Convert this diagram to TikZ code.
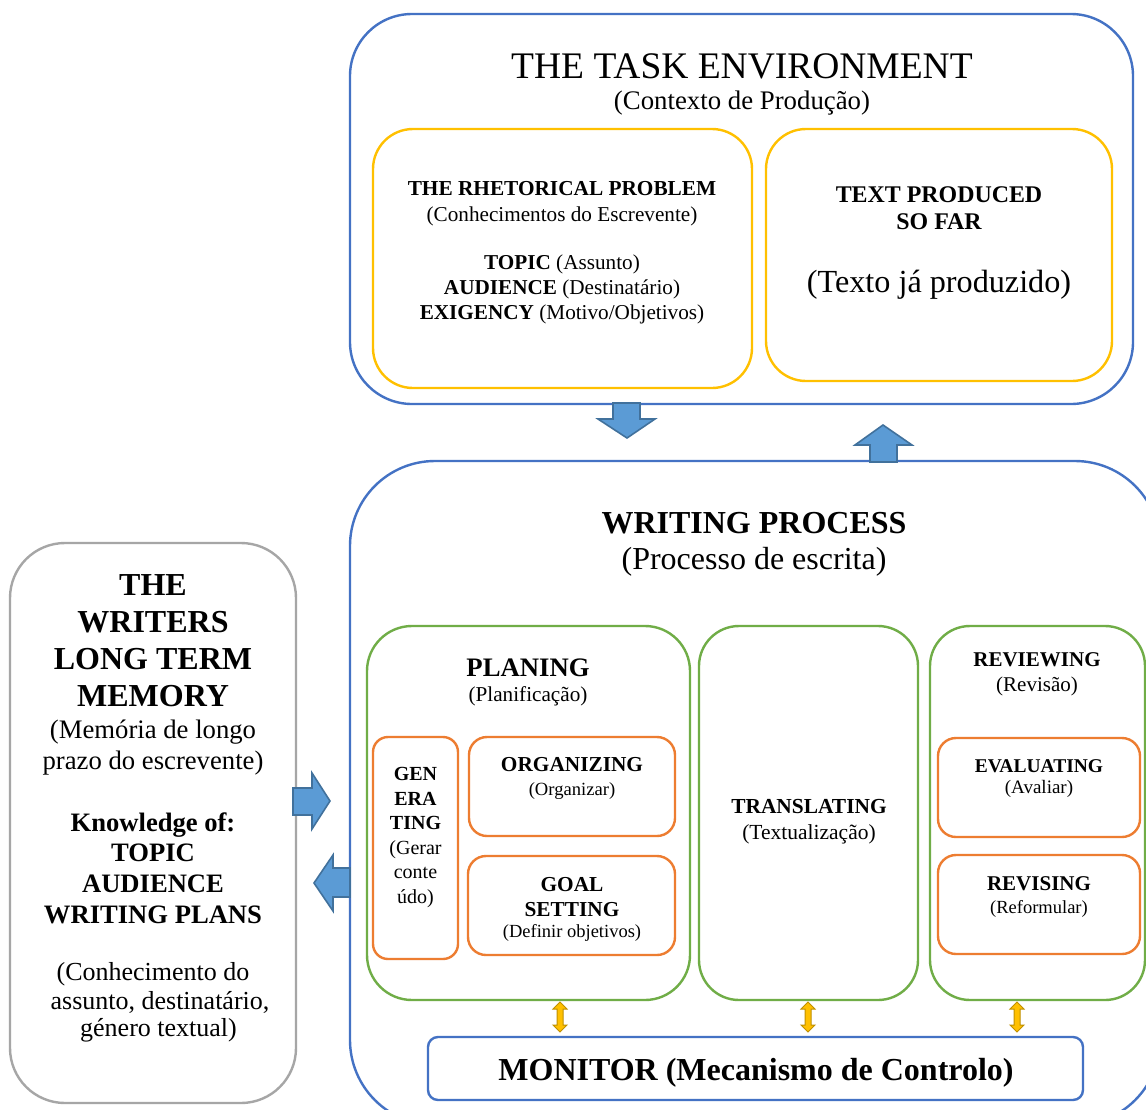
\documentclass[tikz,border=0pt]{standalone}
\usepackage{fontspec}
\setmainfont{Liberation Serif}
\usetikzlibrary{calc}
\definecolor{cblue}{HTML}{4472C4}
\definecolor{cyell}{HTML}{FFC000}
\definecolor{cgreen}{HTML}{70AD47}
\definecolor{corange}{HTML}{ED7D31}
\definecolor{cgray}{HTML}{A6A6A6}
\definecolor{afill}{HTML}{5B9BD5}
\definecolor{aline}{HTML}{41719C}
\definecolor{gfill}{HTML}{FFC000}
\definecolor{gline}{HTML}{BF9000}
\newcommand\fsz[2]{\fontsize{#1}{#2}\selectfont}
\tikzset{
  box/.style={draw=#1, line width=2.4pt, inner sep=0pt, outer sep=0pt, fill=white},
  txt/.style={align=center, inner sep=0pt},
  blockarrow/.style={fill=afill, draw=aline, line width=1.6pt, line join=miter},
  pics/updown/.style={code={
    \draw[fill=gfill, draw=gline, line width=1pt, line join=miter]
      (0,-15) -- (7,-8) -- (3,-8) -- (3,8) -- (7,8) -- (0,15) -- (-7,8) -- (-3,8) -- (-3,-8) -- (-7,-8) -- cycle;}}
}
\begin{document}
\begin{tikzpicture}[x=1pt,y=-1pt]
\useasboundingbox (0,0) rectangle (1146,1109);
\clip (0,0) rectangle (1146,1109);
\fill[white] (0,0) rectangle (1146,1109);

% ---- task environment
\node[box=cblue, rounded corners=62pt, minimum width=783pt, minimum height=390pt] (task) at (741.5,209) {};
\node[txt, font=\fsz{37.5}{42}] (taskt) at (742,66) {THE TASK ENVIRONMENT};
\node[txt, font=\fsz{26.8}{30}] (tasks) at (742,103.5) {(Contexto de Produção)};

\node[box=cyell, rounded corners=40pt, minimum width=379pt, minimum height=259pt] (rhet) at (562.5,258.5) {};
\node[txt, font=\fsz{21.3}{25}\bfseries] (rheta) at (562,189) {THE RHETORICAL PROBLEM};
\node[txt, font=\fsz{21.2}{24}] (rhetb) at (562,216) {(Conhecimentos do Escrevente)};
\node[txt, font=\fsz{21.2}{25}] (rhetc) at (562,289) {\textbf{TOPIC} (Assunto)\\\textbf{AUDIENCE} (Destinatário)\\\textbf{EXIGENCY} (Motivo/Objetivos)};

\node[box=cyell, rounded corners=40pt, minimum width=346pt, minimum height=252pt] (tpsf) at (939,255) {};
\node[txt, font=\fsz{23.9}{27}\bfseries] (tpsfa) at (939,208) {TEXT PRODUCED\\SO FAR};
\node[txt, font=\fsz{32.2}{36}] (tpsfb) at (939,284.5) {(Texto já produzido)};

% ---- writing process
\node[box=cblue, rounded corners=85pt, minimum width=810pt, minimum height=664pt] (wp) at (755,793) {};
\node[txt, font=\fsz{32}{36}\bfseries] (wpa) at (754,523) {WRITING PROCESS};
\node[txt, font=\fsz{32}{36}] (wpb) at (754,562) {(Processo de escrita)};

\node[box=cgreen, rounded corners=45pt, minimum width=323pt, minimum height=374pt] (plan) at (528.5,813) {};
\node[txt, font=\fsz{26.7}{30}\bfseries] (plana) at (528,668) {PLANING};
\node[txt, font=\fsz{21.2}{24}] (planb) at (528,696.5) {(Planificação)};

\node[box=corange, rounded corners=15pt, minimum width=85pt, minimum height=222pt] (gen) at (415.5,848) {};
\node[txt, font=\fsz{20}{24.6}] (gent) at (415.5,837.5) {\textbf{GEN}\\\textbf{ERA}\\\textbf{TING}\\(Gerar\\conte\\údo)};

\node[box=corange, rounded corners=18pt, minimum width=206pt, minimum height=99pt] (org) at (572,786.5) {};
\node[txt, font=\fsz{21.3}{25}\bfseries] (orga) at (572,765) {ORGANIZING};
\node[txt, font=\fsz{18.6}{22}] (orgb) at (572,791) {(Organizar)};

\node[box=corange, rounded corners=18pt, minimum width=207pt, minimum height=99pt] (goal) at (571.5,905.5) {};
\node[txt, font=\fsz{21.3}{24.5}\bfseries] (goala) at (572,897) {GOAL\\SETTING};
\node[txt, font=\fsz{18.5}{22}] (goalb) at (572,933) {(Definir objetivos)};

\node[box=cgreen, rounded corners=40pt, minimum width=219pt, minimum height=374pt] (trans) at (808.5,813) {};
\node[txt, font=\fsz{21.4}{25}\bfseries] (transa) at (809,807) {TRANSLATING};
\node[txt, font=\fsz{21.5}{24}] (transb) at (809,834.5) {(Textualização)};

\node[box=cgreen, rounded corners=40pt, minimum width=215pt, minimum height=374pt] (rev) at (1037.5,813) {};
\node[txt, font=\fsz{21}{25}\bfseries] (reva) at (1037,660) {REVIEWING};
\node[txt, font=\fsz{21}{24}] (revb) at (1037,686.5) {(Revisão)};

\node[box=corange, rounded corners=18pt, minimum width=202pt, minimum height=99pt] (eval) at (1039,787.5) {};
\node[txt, font=\fsz{19.5}{23}\bfseries] (evala) at (1039,766) {EVALUATING};
\node[txt, font=\fsz{19}{22}] (evalb) at (1039,789) {(Avaliar)};

\node[box=corange, rounded corners=18pt, minimum width=202pt, minimum height=99pt] (revis) at (1039,904.5) {};
\node[txt, font=\fsz{21}{25}\bfseries] (revisa) at (1039,884) {REVISING};
\node[txt, font=\fsz{18.5}{22}] (revisb) at (1039,909) {(Reformular)};

\node[box=cblue, rounded corners=10pt, minimum width=655pt, minimum height=63pt] (mon) at (755.5,1068.5) {};
\node[txt, font=\fsz{32}{36}\bfseries] (mont) at (756,1072.5) {MONITOR (Mecanismo de Controlo)};

\pic (ud1) at (560,1017) {updown};
\pic (ud2) at (808,1017) {updown};
\pic (ud3) at (1017,1017) {updown};

% ---- long term memory
\node[box=cgray, rounded corners=55pt, minimum width=286pt, minimum height=560pt] (ltm) at (153,823) {};
\node[txt, font=\fsz{32}{37}\bfseries] (ltma) at (153,641) {THE\\WRITERS\\LONG TERM\\MEMORY};
\node[txt, font=\fsz{26.7}{31}] (ltmb) at (153,747.5) {(Memória de longo\\prazo do escrevente)};
\node[txt, font=\fsz{26.6}{30.7}\bfseries] (ltmc) at (153,868) {Knowledge of:\\TOPIC\\AUDIENCE\\WRITING PLANS};
\node[txt, font=\fsz{26}{28}] (ltmd1) at (153,974.5) {(Conhecimento do};
\node[txt, font=\fsz{26}{28}] (ltmd2) at (160,1002.5) {assunto, destinatário,};
\node[txt, font=\fsz{26}{28}] (ltmd3) at (158.5,1030.5) {género textual)};

% ---- block arrows
\draw[blockarrow] (613,403) -- (640,403) -- (640,419) -- (655,419) -- (627,438) -- (598,419) -- (613,419) -- cycle;
\draw[blockarrow] (870,462) -- (897,462) -- (897,445) -- (912,445) -- (883,425) -- (855,445) -- (870,445) -- cycle;
\draw[blockarrow] (293,788) -- (312,788) -- (312,773) -- (330,801) -- (312,829) -- (312,815) -- (293,815) -- cycle;
\draw[blockarrow] (350,868) -- (333,868) -- (333,855) -- (314,883) -- (333,911) -- (333,897) -- (350,897) -- cycle;
\end{tikzpicture}
\end{document}
